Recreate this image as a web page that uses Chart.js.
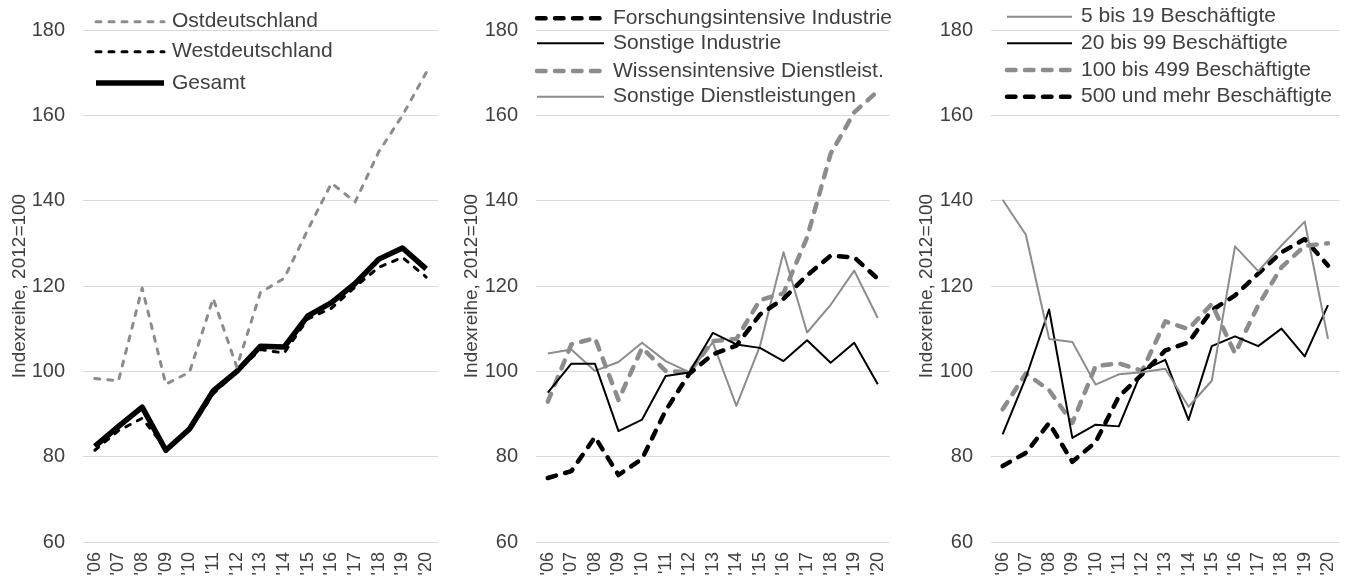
<!DOCTYPE html>
<html>
<head>
<meta charset="utf-8">
<script src="https://cdn.jsdelivr.net/npm/chart.js@4/dist/chart.umd.min.js"></script>
<style>
  html, body { margin: 0; padding: 0; background: #fff; width: 1351px; height: 583px; overflow: hidden; }
  .panel { position: absolute; top: 0; width: 460px; height: 583px; }
</style>
</head>
<body>
<div class="panel" style="left:0px"><canvas id="c1"></canvas></div>
<div class="panel" style="left:450px"><canvas id="c2"></canvas></div>
<div class="panel" style="left:900px"><canvas id="c3"></canvas></div>
<script>
// ---- data ----
const years = ["'06","'07","'08","'09","'10","'11","'12","'13","'14","'15","'16","'17","'18","'19","'20"];
const yTicks = [60, 80, 100, 120, 140, 160, 180];
const yTitle = "Indexreihe, 2012=100";

// Panel 1
const labels1 = ["Ostdeutschland", "Westdeutschland", "Gesamt"];
const ost    = [98.3, 97.8, 119.5, 97.0, 99.8, 117.1, 101.0, 118.5, 121.8, 133.2, 144.1, 139.7, 151.5, 160.0, 170.0];
const west   = [81.5, 86.1, 89.0, 81.9, 86.1, 94.7, 100.0, 105.1, 104.3, 112.3, 114.8, 119.8, 124.4, 126.7, 122.1];
const gesamt = [82.4, 87.1, 91.6, 81.5, 86.5, 95.4, 100.0, 105.9, 105.7, 113.0, 116.1, 120.6, 126.3, 128.9, 124.0];

// Panel 2
const labels2 = ["Forschungsintensive Industrie", "Sonstige Industrie", "Wissensintensive Dienstleist.", "Sonstige Dienstleistungen"];
const forschInd  = [75.0, 76.6, 84.6, 75.7, 79.5, 90.8, 99.4, 104.0, 106.0, 113.3, 117.0, 122.5, 127.1, 126.7, 121.7];
const sonstInd   = [95.0, 101.8, 101.8, 86.0, 88.7, 98.9, 99.7, 109.0, 106.3, 105.5, 102.4, 107.3, 102.0, 106.7, 97.0];
const wissenDL   = [92.9, 106.3, 107.8, 93.3, 105.5, 100.1, 99.8, 107.1, 107.6, 116.7, 118.3, 131.4, 151.0, 160.7, 165.7];
const sonstDL    = [104.2, 105.1, 100.1, 102.2, 106.7, 102.4, 99.8, 106.8, 91.9, 105.9, 127.9, 109.1, 115.6, 123.6, 112.5];

// Panel 3
const labels3 = ["5 bis 19 Beschäftigte", "20 bis 99 Beschäftigte", "100 bis 499 Beschäftigte", "500 und mehr Beschäftigte"];
const b5to19    = [140.2, 132.0, 107.6, 106.9, 96.9, 99.3, 99.8, 100.6, 91.7, 97.8, 129.3, 123.5, 129.5, 135.1, 107.6];
const b20to99   = [85.2, 98.5, 114.5, 84.4, 87.5, 87.1, 100.2, 102.7, 88.6, 105.9, 108.2, 105.9, 110.0, 103.5, 115.5];
const b100to499 = [91.1, 99.5, 95.6, 87.9, 101.2, 101.9, 100.1, 111.7, 109.9, 115.8, 104.2, 115.5, 124.4, 129.4, 130.0];
const b500plus  = [77.8, 80.9, 87.9, 78.8, 83.4, 94.1, 99.3, 104.9, 106.8, 114.3, 117.8, 122.9, 127.9, 131.0, 124.8];

// ---- styles ----
const GRAY = '#8c8c8c';
const BLACK = '#000000';
const TXT = '#404040';
const FONT = "'Liberation Sans', Arial, sans-serif";

function ds(label, data, color, width, dash) {
  return {
    label, data,
    borderColor: color, backgroundColor: color,
    borderWidth: width,
    borderDash: dash || [],
    borderCapStyle: dash ? 'round' : 'butt',
    borderJoinStyle: 'round',
    pointRadius: 0, pointHoverRadius: 0,
    tension: 0, fill: false
  };
}

const insideLegend = {
  id: 'insideLegend',
  afterDatasetsDraw(chart, args, opts) {
    const ctx = chart.ctx;
    ctx.save();
    chart.data.datasets.forEach((d, i) => {
      const y = opts.rows[i];
      ctx.beginPath();
      ctx.strokeStyle = d.borderColor;
      ctx.lineWidth = d.borderWidth;
      ctx.setLineDash(d.borderDash || []);
      ctx.lineCap = d.borderCapStyle;
      ctx.moveTo(opts.x0, y);
      ctx.lineTo(opts.x1, y);
      ctx.stroke();
      ctx.setLineDash([]);
      ctx.fillStyle = TXT;
      ctx.font = "21px " + FONT;
      ctx.textBaseline = 'middle';
      ctx.textAlign = 'left';
      ctx.fillText(d.label, opts.tx, y);
    });
    ctx.restore();
  }
};

function makeChart(id, datasets, cfg) {
  return new Chart(document.getElementById(id), {
    type: 'line',
    data: { labels: years, datasets },
    options: {
      responsive: true,
      maintainAspectRatio: false,
      animation: false,
      layout: { padding: { top: 23, right: cfg.padRight, left: 0, bottom: 0 } },
      plugins: {
        legend: { display: false },
        tooltip: { enabled: false },
        insideLegend: cfg.legend
      },
      scales: {
        x: {
          offset: true,
          grid: { display: false, drawTicks: false },
          border: { display: false },
          ticks: {
            autoSkip: false, maxRotation: 90, minRotation: 90,
            padding: 10, color: TXT, font: { size: 18, family: FONT }
          },
          afterFit(scale) { scale.height = 41; }
        },
        y: {
          min: 60, max: 180,
          afterBuildTicks(scale) { scale.ticks = yTicks.map(v => ({ value: v })); },
          grid: { color: '#d9d9d9', lineWidth: 1, drawTicks: false },
          border: { display: false },
          ticks: { padding: 18, color: TXT, font: { size: 20, family: FONT } },
          title: {
            display: true, text: yTitle, color: TXT,
            font: { size: 19, family: FONT },
            padding: { top: cfg.titlePad, bottom: 0 }
          },
          afterFit(scale) { scale.width = cfg.axisWidth; }
        }
      }
    },
    plugins: [insideLegend]
  });
}

makeChart('c1', [
  ds(labels1[0], ost, GRAY, 3, [5, 8]),
  ds(labels1[1], west, BLACK, 3, [5, 8]),
  ds(labels1[2], gesamt, BLACK, 5.5)
], { axisWidth: 83, padRight: 22, titlePad: 8,
     legend: { x0: 96, x1: 164, tx: 172, rows: [21.7, 51.7, 83] } });

makeChart('c2', [
  ds(labels2[0], forschInd, BLACK, 4.5, [8.5, 9.5]),
  ds(labels2[1], sonstInd, BLACK, 2),
  ds(labels2[2], wissenDL, GRAY, 4.5, [8.5, 9.5]),
  ds(labels2[3], sonstDL, GRAY, 2)
], { axisWidth: 86, padRight: 18, titlePad: 10,
     legend: { x0: 87, x1: 154, tx: 163, rows: [18.3, 43.3, 71, 96.7] } });

makeChart('c3', [
  ds(labels3[0], b5to19, GRAY, 2),
  ds(labels3[1], b20to99, BLACK, 2),
  ds(labels3[2], b100to499, GRAY, 4.5, [8.5, 9.5]),
  ds(labels3[3], b500plus, BLACK, 4.5, [8.5, 9.5])
], { axisWidth: 91, padRight: 13, titlePad: 15,
     legend: { x0: 107, x1: 172, tx: 181, rows: [16.7, 43.3, 70, 96.7] } });
</script>
</body>
</html>
